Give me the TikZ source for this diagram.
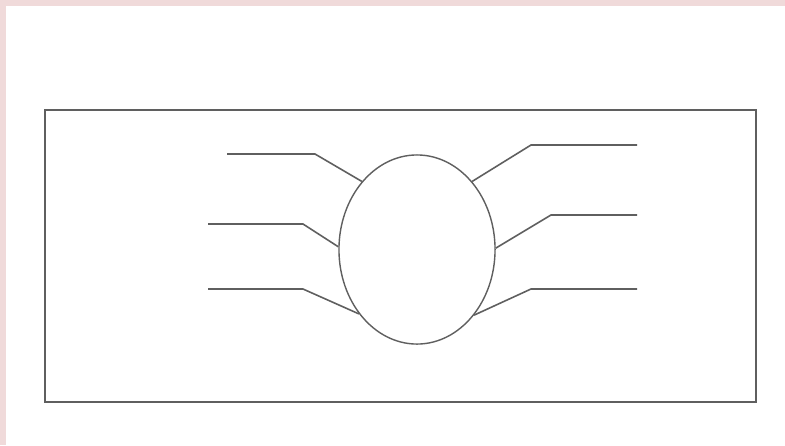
\documentclass[tikz,border=0pt]{standalone}
\usepackage{tikz}
\usetikzlibrary{shapes.geometric, positioning}

\definecolor{edgepink}{RGB}{240,218,218}
\definecolor{linegray}{RGB}{95,95,95}

\begin{document}
\begin{tikzpicture}[x=0.01cm, y=-0.01cm,
    lead/.style={draw=linegray, line width=0.45pt},
    frame/.style={draw=linegray, line width=0.6pt}]
      % Page background
      \fill[edgepink] (0,0) rectangle (785,445);
      \fill[white] (6,6) rectangle (785,445);
      \useasboundingbox (0,0) rectangle (785,445);

      % Outer box
      \node[frame, rectangle, inner sep=0pt, minimum width=7.11cm, minimum height=2.92cm] (box) at (400.5,256) {};

      % Central ellipse
      \node[ellipse, draw=linegray, line width=0.4pt, inner sep=0pt, minimum width=1.56cm, minimum height=1.89cm] (oval) at (417,249.5) {};

      % Bend points and free ends, left side
      \coordinate (lbendA) at (315,154);  \coordinate (lendA) at (227,154);
      \coordinate (lbendB) at (303,224);  \coordinate (lendB) at (208,224);
      \coordinate (lbendC) at (303,289);  \coordinate (lendC) at (208,289);
      % Bend points and free ends, right side
      \coordinate (rbendA) at (531,145);  \coordinate (rendA) at (637,145);
      \coordinate (rbendB) at (551,215);  \coordinate (rendB) at (637,215);
      \coordinate (rbendC) at (531,289);  \coordinate (rendC) at (637,289);

      % Leader lines
      \draw[lead] (oval.129) -- (lbendA) -- (lendA);
      \draw[lead] (oval.178) -- (lbendB) -- (lendB);
      \draw[lead] (oval.228) -- (lbendC) -- (lendC);
      \draw[lead] (oval.51) -- (rbendA) -- (rendA);
      \draw[lead] (oval.1) -- (rbendB) -- (rendB);
      \draw[lead] (oval.311) -- (rbendC) -- (rendC);
    \end{tikzpicture}
\end{document}
